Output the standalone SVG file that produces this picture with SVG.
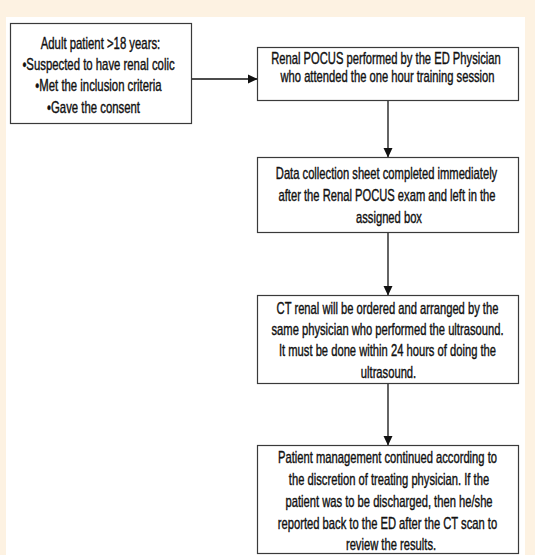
<svg xmlns="http://www.w3.org/2000/svg" width="535" height="555" viewBox="0 0 535 555">
<style>
.box{fill:#ffffff;stroke:#3a3a3a;stroke-width:1.2}
.t{font-family:"Liberation Sans",Arial,sans-serif;font-size:16px;fill:#111;stroke:#111;stroke-width:0.4;text-anchor:middle}
.c{stroke:#111;stroke-width:1.3;fill:none;marker-end:url(#ah)}
</style>
<defs>
<marker id="ah" markerWidth="10" markerHeight="10" refX="9" refY="5" orient="auto" markerUnits="userSpaceOnUse">
<path d="M0,0.5 L9.5,5 L0,9.5 z" fill="#111"/>
</marker>
</defs>
<rect x="0" y="0" width="535" height="555" fill="#fdf2e2"/>
<rect x="6" y="17" width="519" height="538" fill="#ffffff"/>
<g id="connectors">
<line class="c" x1="191" y1="79" x2="257" y2="79"/>
<line class="c" x1="388" y1="100" x2="388" y2="157"/>
<line class="c" x1="388" y1="232" x2="388" y2="295"/>
<line class="c" x1="388" y1="383" x2="388" y2="445"/>
</g>
<g id="n1">
<rect class="box" x="10.5" y="23.5" width="181" height="100"/>
<text class="t" transform="translate(100.5,48.5) scale(0.71,1)">Adult patient &gt;18 years:</text>
<text class="t" transform="translate(98.5,69.5) scale(0.71,1)">•Suspected to have renal colic</text>
<text class="t" transform="translate(98.5,90.5) scale(0.71,1)">•Met the inclusion criteria</text>
<text class="t" transform="translate(93.5,112.5) scale(0.71,1)">•Gave the consent</text>
</g>
<g id="n2">
<rect class="box" x="257.5" y="47.5" width="261" height="53"/>
<text class="t" transform="translate(386,63.5) scale(0.7,1)">Renal POCUS performed by the ED Physician</text>
<text class="t" transform="translate(387.5,81.5) scale(0.7,1)">who attended the one hour training session</text>
</g>
<g id="n3">
<rect class="box" x="257.5" y="157.5" width="261" height="75"/>
<text class="t" transform="translate(386.5,178.5) scale(0.7,1)">Data collection sheet completed immediately</text>
<text class="t" transform="translate(387,200.5) scale(0.7,1)">after the Renal POCUS exam and left in the</text>
<text class="t" transform="translate(389,222.5) scale(0.7,1)">assigned box</text>
</g>
<g id="n4">
<rect class="box" x="257.5" y="295.5" width="261" height="88"/>
<text class="t" transform="translate(387.5,313.5) scale(0.7,1)">CT renal will be ordered and arranged by the</text>
<text class="t" transform="translate(387.5,334.5) scale(0.7,1)">same physician who performed the ultrasound.</text>
<text class="t" transform="translate(387.5,355.5) scale(0.7,1)">It must be done within 24 hours of doing the</text>
<text class="t" transform="translate(388.5,377.5) scale(0.7,1)">ultrasound.</text>
</g>
<g id="n5">
<rect class="box" x="257.5" y="445.5" width="261" height="108"/>
<text class="t" transform="translate(387.5,462.5) scale(0.7,1)">Patient management continued according to</text>
<text class="t" transform="translate(389,484.5) scale(0.7,1)">the discretion of treating physician. If the</text>
<text class="t" transform="translate(389,506.5) scale(0.7,1)">patient was to be discharged, then he/she</text>
<text class="t" transform="translate(387.5,528.5) scale(0.7,1)">reported back to the ED after the CT scan to</text>
<text class="t" transform="translate(391,549.5) scale(0.7,1)">review the results.</text>
</g>
</svg>
